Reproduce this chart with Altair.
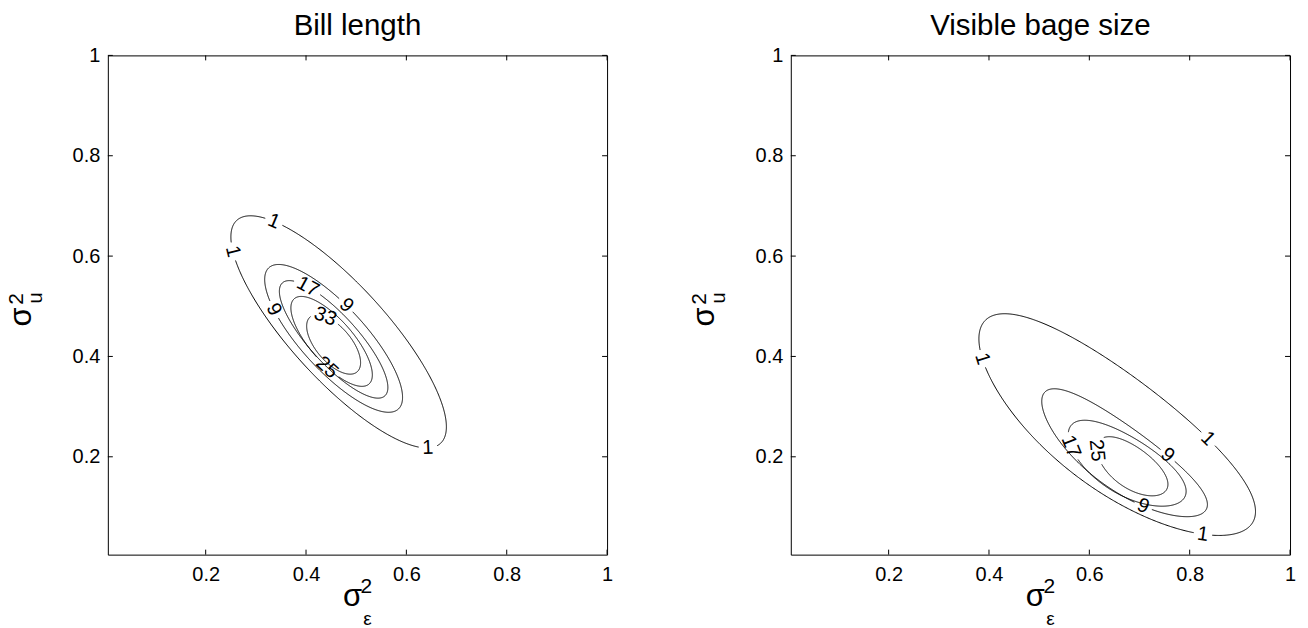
import math
import numpy as np
import pandas as pd
import altair as alt

FONT = "Liberation Sans"
DOMAIN = [0.005, 1.0]
TICKS = [0.2, 0.4, 0.6, 0.8, 1.0]
W = 500
PX = W / (DOMAIN[1] - DOMAIN[0])

# Contours are described by shape parameters:
# centre (cx, cy), half-length a, half-width b, axis angle (deg) and bend m.

# ---- Left panel: Bill length ----
left_title = "Bill length"
left_levels = [1, 9, 17, 25, 33]
left_cx = [0.465, 0.455, 0.455, 0.451, 0.455]
left_cy = [0.449, 0.436, 0.434, 0.430, 0.424]
left_a = [0.301, 0.191, 0.152, 0.113, 0.072]
left_b = [0.095, 0.064, 0.048, 0.043, 0.035]
left_ang = [-47.6, -47.5, -47.8, -48.8, -49.6]
left_bend = [0.0, 0.0, 0.0, 0.0, 0.0]
left_lab_level = [1, 1, 1, 9, 9, 17, 33, 25]
left_lab_x = [0.330, 0.251, 0.643, 0.335, 0.472, 0.402, 0.436, 0.452]
left_lab_y = [0.656, 0.608, 0.225, 0.493, 0.493, 0.535, 0.473, 0.389]

# ---- Right panel: Visible bage size ----
right_title = "Visible bage size"
right_levels = [1, 9, 17, 25]
right_cx = [0.6563, 0.6707, 0.6757, 0.6860]
right_cy = [0.2669, 0.2100, 0.1893, 0.1821]
right_a = [0.3343, 0.199, 0.134, 0.083]
right_b = [0.1134, 0.0617, 0.056, 0.040]
right_ang = [-37.0, -36.0, -32.0, -36.4]
right_bend = [0.0199, 0.0149, 0.008, 0.004]
right_lab_level = [1, 1, 1, 9, 9, 17, 25]
right_lab_x = [0.388, 0.820, 0.828, 0.757, 0.704, 0.575, 0.629]
right_lab_y = [0.396, 0.221, 0.055, 0.205, 0.093, 0.225, 0.214]

LABEL_FS = 20


def contour_xy(cx, cy, a, b, ang, m, n):
    th = math.radians(ang)
    t = np.linspace(0, 2 * np.pi, n, endpoint=False)
    u = a * np.cos(t)
    v = b * np.sin(t) + m * (np.cos(t) ** 2 - 1)
    du = -a * np.sin(t)
    dv = b * np.cos(t) - 2 * m * np.cos(t) * np.sin(t)
    c, s = math.cos(th), math.sin(th)
    return (cx + u * c - v * s, cy + u * s + v * c, du * c - dv * s, du * s + dv * c)


def panel_frames(levels, cx, cy, a, b, ang, bend, lab_lev, lab_x, lab_y):
    n = 720
    labels = []
    for lv, lx, ly in zip(lab_lev, lab_x, lab_y):
        j = levels.index(lv)
        x, y, dx, dy = contour_xy(cx[j], cy[j], a[j], b[j], ang[j], bend[j], n)
        i = int(np.argmin((x - lx) ** 2 + (y - ly) ** 2))
        al = math.degrees(math.atan2(-dy[i], dx[i]))
        while al > 90:
            al -= 180
        while al <= -90:
            al += 180
        labels.append(dict(x=float(x[i]), y=float(y[i]), text=str(lv),
                           ang=al % 360, lev=lv))
    rows = []
    for j, lv in enumerate(levels):
        x, y, _, _ = contour_xy(cx[j], cy[j], a[j], b[j], ang[j], bend[j], n)
        gap = np.zeros(n, dtype=bool)
        for lab in labels:
            if lab["lev"] != lv:
                continue
            r = 0.556 * LABEL_FS * len(lab["text"]) / 2 + 3.5
            d = np.hypot((x - lab["x"]) * PX, (y - lab["y"]) * PX)
            gap |= d < r
        if gap.any():
            start = int(np.argmax(gap))
            order = [(start + k) % n for k in range(n)]
        else:
            order = [k % n for k in range(n + 1)]
        seg = 0
        run = False
        for k, idx in enumerate(order):
            if gap[idx]:
                run = False
                continue
            if not run:
                seg += 1
                run = True
            rows.append(dict(x=float(x[idx]), y=float(y[idx]),
                             seg=f"{lv}-{seg}", i=k))
    return pd.DataFrame(rows), pd.DataFrame(labels)


def xenc(field="x"):
    return alt.X(f"{field}:Q",
                 scale=alt.Scale(domain=DOMAIN, nice=False, zero=False),
                 axis=alt.Axis(values=TICKS, format="~g", ticks=False, domain=False,
                               grid=False, labelFont=FONT, labelFontSize=20,
                               labelColor="black", labelPadding=10,
                               labelFlush=False, title=None))


def yenc(field="y"):
    return alt.Y(f"{field}:Q",
                 scale=alt.Scale(domain=DOMAIN, nice=False, zero=False),
                 axis=alt.Axis(values=TICKS, format="~g", ticks=False, domain=False,
                               grid=False, labelFont=FONT, labelFontSize=20,
                               labelColor="black", labelPadding=8,
                               labelFlush=False, title=None))


def txt(s, x, y, size, angle=0, baseline="alphabetic"):
    return alt.Chart(pd.DataFrame({"t": [s]})).mark_text(
        font=FONT, fontSize=size, color="black", align="center",
        baseline=baseline, angle=angle
    ).encode(x=alt.value(x), y=alt.value(y), text="t:N")


def panel(title, levels, cx, cy, a, b, ang, bend, lab_lev, lab_x, lab_y, corners=False):
    lines, labs = panel_frames(levels, cx, cy, a, b, ang, bend, lab_lev, lab_x, lab_y)
    ticks = pd.DataFrame({"x": TICKS, "y": TICKS})

    contour = alt.Chart(lines).mark_line(color="black", strokeWidth=1).encode(
        x=xenc(), y=yenc(), detail="seg:N", order="i:Q")
    clabels = alt.Chart(labs).mark_text(
        font=FONT, fontSize=LABEL_FS, color="black", baseline="middle", align="center"
    ).encode(x=xenc(), y=yenc(), text="text:N", angle=alt.Angle("ang:Q", scale=None))

    tb = alt.Chart(ticks).mark_rule(color="black").encode(
        x=xenc(), y=alt.value(W), y2=alt.value(W - 5))
    tt = alt.Chart(ticks).mark_rule(color="black").encode(
        x=xenc(), y=alt.value(0), y2=alt.value(5))
    tl = alt.Chart(ticks).mark_rule(color="black").encode(
        y=yenc(), x=alt.value(0), x2=alt.value(5))
    tr = alt.Chart(ticks).mark_rule(color="black").encode(
        y=yenc(), x=alt.value(W), x2=alt.value(W - 5))

    layers = []
    if corners:
        one = pd.DataFrame({"k": [0]})
        layers.append(alt.Chart(one).mark_rect(color="white").encode(
            x=alt.value(-107), x2=alt.value(-106), y=alt.value(-54), y2=alt.value(-53)))
        layers.append(alt.Chart(one).mark_rect(color="white").encode(
            x=alt.value(1200), x2=alt.value(1201), y=alt.value(572), y2=alt.value(573)))
    layers += [tb, tt, tl, tr, contour, clabels,
               txt(title, W / 2, -20, 29.5),
               # x axis title: sigma_epsilon^2
               txt("σ", 245, 551, 31),
               txt("2", 259, 538, 21),
               txt("ε", 260, 570, 19),
               # y axis title: sigma_u^2 (rotated)
               txt("σ", -77, 262, 31, angle=270),
               txt("2", -85, 244, 21, angle=270),
               txt("u", -66, 243, 20, angle=270)]
    return alt.layer(*layers).properties(width=W, height=W)


left = panel(left_title, left_levels, left_cx, left_cy, left_a, left_b, left_ang, left_bend,
             left_lab_level, left_lab_x, left_lab_y, corners=True)
right = panel(right_title, right_levels, right_cx, right_cy, right_a, right_b, right_ang,
              right_bend, right_lab_level, right_lab_x, right_lab_y)

chart = alt.hconcat(left, right, spacing=184, bounds="flush").properties(
    padding=0, background="white"
).configure_view(stroke="black", strokeWidth=1)

chart.save("out.html", embed_options={"renderer": "svg", "actions": False})
